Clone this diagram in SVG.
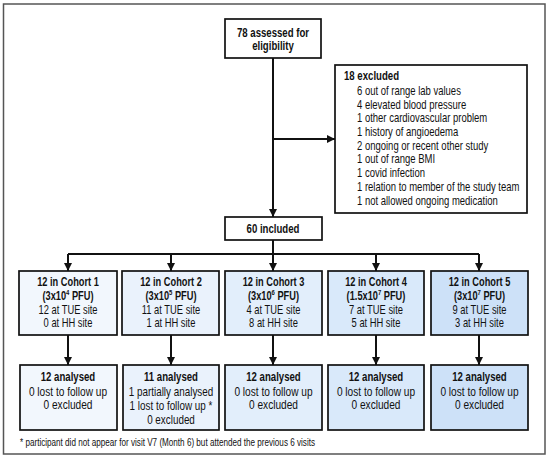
<svg xmlns="http://www.w3.org/2000/svg" width="550" height="460" viewBox="0 0 550 460">
<style>
text{font-family:"Liberation Sans",Arial,sans-serif;font-size:13px;fill:#111;text-anchor:middle}
.b{font-weight:bold;font-size:12.5px}
.l{text-anchor:start}
.box{stroke:#111;stroke-width:1.7}
.w{fill:#fff}
.c1{fill:#f2f7fd}.c2{fill:#eaf2fc}.c3{fill:#e2eefb}.c4{fill:#d9e9fa}.c5{fill:#cde1f8}
.ln{stroke:#111;stroke-width:2;fill:none}
.sup{font-size:8px}
.fn{font-size:10.5px;text-anchor:start}
</style>
<defs>
<marker id="ah" viewBox="0 0 8 8" refX="8" refY="4" markerWidth="4" markerHeight="4" orient="auto" markerUnits="strokeWidth">
<path d="M0,0 L8,4 L0,8 z" fill="#111"/>
</marker>
</defs>
<rect x="3.5" y="4" width="541.5" height="450" fill="#fff" stroke="#555" stroke-width="1.5"/>
<g id="connectors">
<path class="ln" d="M273,58 V217" marker-end="url(#ah)"/>
<path class="ln" d="M273,139 H335" marker-end="url(#ah)"/>
<path class="ln" d="M273,240 V271" marker-end="url(#ah)"/>
<path class="ln" d="M68,254 H479"/>
<path class="ln" d="M68,254 V271" marker-end="url(#ah)"/>
<path class="ln" d="M171,254 V271" marker-end="url(#ah)"/>
<path class="ln" d="M376,254 V271" marker-end="url(#ah)"/>
<path class="ln" d="M479,254 V271" marker-end="url(#ah)"/>
<path class="ln" d="M68,335 V365" marker-end="url(#ah)"/>
<path class="ln" d="M171,335 V365" marker-end="url(#ah)"/>
<path class="ln" d="M273,335 V365" marker-end="url(#ah)"/>
<path class="ln" d="M376,335 V365" marker-end="url(#ah)"/>
<path class="ln" d="M479,335 V365" marker-end="url(#ah)"/>
</g>
<g id="assessed">
<rect class="box w" x="225" y="19" width="96" height="39"/>
<g transform="matrix(0.77,0,0,1,273,0)">
<text class="b" x="0" y="37">78 assessed for</text>
<text class="b" x="0" y="50">eligibility</text>
</g>
</g>
<g id="excluded">
<rect class="box w" x="335" y="65" width="192" height="148"/>
<g transform="matrix(0.77,0,0,1,344,0)">
<text class="b l" x="0" y="80">18 excluded</text>
</g>
<g transform="matrix(0.73,0,0,1,357,0)">
<text class="l" x="0" y="95">6 out of range lab values</text>
<text class="l" x="0" y="108.7">4 elevated blood pressure</text>
<text class="l" x="0" y="122.4">1 other cardiovascular problem</text>
<text class="l" x="0" y="136.1">1 history of angioedema</text>
<text class="l" x="0" y="149.8">2 ongoing or recent other study</text>
<text class="l" x="0" y="163.5">1 out of range BMI</text>
<text class="l" x="0" y="177.2">1 covid infection</text>
<text class="l" x="0" y="190.9">1 relation to member of the study team</text>
<text class="l" x="0" y="204.6">1 not allowed ongoing medication</text>
</g>
</g>
<g id="included">
<rect class="box w" x="225" y="217" width="97" height="23"/>
<g transform="matrix(0.77,0,0,1,273,0)">
<text class="b" x="0" y="233.5">60 included</text>
</g>
</g>
<g id="cohort1">
<rect class="box c1" x="19" y="271" width="98" height="64"/>
<g transform="matrix(0.74,0,0,1,68,0)">
<text class="b" x="0" y="286">12 in Cohort 1</text>
<text class="b" x="0" y="300">(3x10<tspan class="sup" dy="-5">4</tspan><tspan dy="5"> PFU)</tspan></text>
</g>
<g transform="matrix(0.72,0,0,1,68,0)">
<text x="0" y="314">12 at TUE site</text>
<text x="0" y="327.5">0 at HH site</text>
</g>
</g>
<g id="cohort2">
<rect class="box c2" x="122" y="271" width="97" height="64"/>
<g transform="matrix(0.74,0,0,1,171,0)">
<text class="b" x="0" y="286">12 in Cohort 2</text>
<text class="b" x="0" y="300">(3x10<tspan class="sup" dy="-5">5</tspan><tspan dy="5"> PFU)</tspan></text>
</g>
<g transform="matrix(0.72,0,0,1,171,0)">
<text x="0" y="314">11 at TUE site</text>
<text x="0" y="327.5">1 at HH site</text>
</g>
</g>
<g id="cohort3">
<rect class="box c3" x="225" y="271" width="97" height="64"/>
<g transform="matrix(0.74,0,0,1,273.5,0)">
<text class="b" x="0" y="286">12 in Cohort 3</text>
<text class="b" x="0" y="300">(3x10<tspan class="sup" dy="-5">6</tspan><tspan dy="5"> PFU)</tspan></text>
</g>
<g transform="matrix(0.72,0,0,1,273.5,0)">
<text x="0" y="314">4 at TUE site</text>
<text x="0" y="327.5">8 at HH site</text>
</g>
</g>
<g id="cohort4">
<rect class="box c4" x="328" y="271" width="96" height="64"/>
<g transform="matrix(0.74,0,0,1,376,0)">
<text class="b" x="0" y="286">12 in Cohort 4</text>
<text class="b" x="0" y="300">(1.5x10<tspan class="sup" dy="-5">7</tspan><tspan dy="5"> PFU)</tspan></text>
</g>
<g transform="matrix(0.72,0,0,1,376,0)">
<text x="0" y="314">7 at TUE site</text>
<text x="0" y="327.5">5 at HH site</text>
</g>
</g>
<g id="cohort5">
<rect class="box c5" x="431" y="271" width="97" height="64"/>
<g transform="matrix(0.74,0,0,1,479.5,0)">
<text class="b" x="0" y="286">12 in Cohort 5</text>
<text class="b" x="0" y="300">(3x10<tspan class="sup" dy="-5">7</tspan><tspan dy="5"> PFU)</tspan></text>
</g>
<g transform="matrix(0.72,0,0,1,479.5,0)">
<text x="0" y="314">9 at TUE site</text>
<text x="0" y="327.5">3 at HH site</text>
</g>
</g>
<g id="analysed1">
<rect class="box c1" x="20" y="365" width="97" height="65"/>
<g transform="matrix(0.77,0,0,1,68,0)"><text class="b" x="0" y="381">12 analysed</text></g>
<g transform="matrix(0.78,0,0,1,68,0)">
<text x="0" y="396">0 lost to follow up</text>
<text x="0" y="409.5">0 excluded</text>
</g>
</g>
<g id="analysed2">
<rect class="box c2" x="123" y="365" width="96" height="65"/>
<g transform="matrix(0.77,0,0,1,171,0)"><text class="b" x="0" y="381">11 analysed</text></g>
<g transform="matrix(0.76,0,0,1,171,0)">
<text x="0" y="396">1 partially analysed</text>
<text x="0" y="410">1 lost to follow up *</text>
<text x="0" y="424.5">0 excluded</text>
</g>
</g>
<g id="analysed3">
<rect class="box c3" x="225" y="365" width="97" height="65"/>
<g transform="matrix(0.77,0,0,1,273.5,0)"><text class="b" x="0" y="381">12 analysed</text></g>
<g transform="matrix(0.78,0,0,1,273.5,0)">
<text x="0" y="396">0 lost to follow up</text>
<text x="0" y="409.5">0 excluded</text>
</g>
</g>
<g id="analysed4">
<rect class="box c4" x="328" y="365" width="96" height="65"/>
<g transform="matrix(0.77,0,0,1,376,0)"><text class="b" x="0" y="381">12 analysed</text></g>
<g transform="matrix(0.78,0,0,1,376,0)">
<text x="0" y="396">0 lost to follow up</text>
<text x="0" y="409.5">0 excluded</text>
</g>
</g>
<g id="analysed5">
<rect class="box c5" x="431" y="365" width="97" height="65"/>
<g transform="matrix(0.77,0,0,1,479.5,0)"><text class="b" x="0" y="381">12 analysed</text></g>
<g transform="matrix(0.78,0,0,1,479.5,0)">
<text x="0" y="396">0 lost to follow up</text>
<text x="0" y="409.5">0 excluded</text>
</g>
</g>
<text class="fn" x="20" y="446" textLength="295" lengthAdjust="spacingAndGlyphs">* participant did not appear for visit  V7 (Month 6) but attended the previous 6 visits</text>
</svg>
